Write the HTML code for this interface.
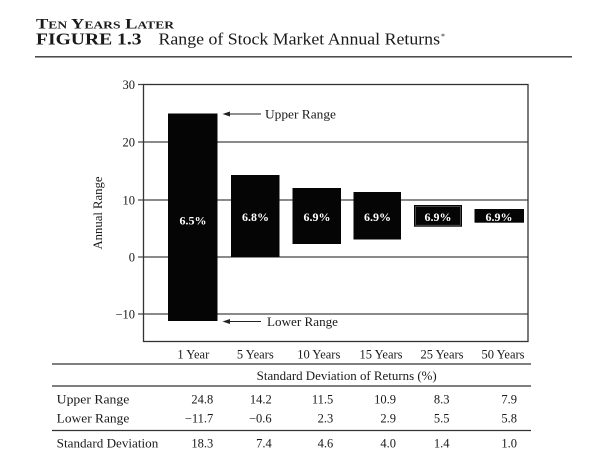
<!DOCTYPE html>
<html>
<head>
<meta charset="utf-8">
<style>
html,body{margin:0;padding:0;background:#fff;}
svg{display:block;}
text{font-family:"Liberation Serif",serif;fill:#1a1a1a;}
</style>
</head>
<body>
<svg width="600" height="464" viewBox="0 0 600 464" xmlns="http://www.w3.org/2000/svg">
<rect x="0" y="0" width="600" height="464" fill="#fff"/>
<!-- Title -->
<text x="36" y="28.3" font-size="15" font-weight="bold" style="font-variant:small-caps" textLength="138" lengthAdjust="spacingAndGlyphs">Ten Years Later</text>
<text x="36" y="44.3" font-size="16.5" font-weight="bold" textLength="105.5" lengthAdjust="spacingAndGlyphs">FIGURE 1.3</text>
<text x="158.5" y="44.3" font-size="16.5" textLength="281.5" lengthAdjust="spacingAndGlyphs">Range of Stock Market Annual Returns</text>
<text x="441" y="39" font-size="8">*</text>
<line x1="35" y1="56.8" x2="572" y2="56.8" stroke="#333" stroke-width="1.4"/>

<!-- gridlines -->
<g stroke="#444" stroke-width="1.2">
<line x1="143" y1="142" x2="528" y2="142"/>
<line x1="143" y1="200" x2="528" y2="200"/>
<line x1="143" y1="257" x2="528" y2="257"/>
<line x1="143" y1="314" x2="528" y2="314"/>
<!-- ticks -->
<line x1="138" y1="84.5" x2="143" y2="84.5"/>
<line x1="138" y1="142" x2="143" y2="142"/>
<line x1="138" y1="200" x2="143" y2="200"/>
<line x1="138" y1="257" x2="143" y2="257"/>
<line x1="138" y1="314" x2="143" y2="314"/>
</g>
<rect x="143.5" y="84.5" width="384.5" height="257" fill="none" stroke="#333" stroke-width="1.3"/>

<!-- y tick labels -->
<g font-size="12.5" text-anchor="end">
<text x="135" y="89">30</text>
<text x="135" y="146.5">20</text>
<text x="135" y="204.5">10</text>
<text x="135" y="261.5">0</text>
<text x="135" y="318.5">−10</text>
</g>
<text transform="translate(102,213) rotate(-90)" font-size="13" text-anchor="middle" textLength="73" lengthAdjust="spacingAndGlyphs">Annual Range</text>

<!-- bars -->
<g fill="#050505">
<rect x="168" y="113.5" width="49.5" height="207.5"/>
<rect x="231" y="175" width="48.5" height="82"/>
<rect x="292.5" y="188" width="48.5" height="56"/>
<rect x="353.5" y="192" width="47.5" height="47.5"/>
<rect x="414" y="205" width="48" height="21.7"/>
<rect x="474.5" y="209" width="49.5" height="13.7"/>
</g>
<rect x="415.5" y="206.5" width="45" height="18.7" fill="none" stroke="#777" stroke-width="0.6"/>

<!-- bar labels -->
<g font-size="12" font-weight="bold" text-anchor="middle">
<text x="193" y="224.5" style="fill:#fff">6.5%</text>
<text x="255.5" y="221" style="fill:#fff">6.8%</text>
<text x="317" y="221" style="fill:#fff">6.9%</text>
<text x="377.5" y="221" style="fill:#fff">6.9%</text>
<text x="438" y="221" style="fill:#fff">6.9%</text>
<text x="499" y="221" style="fill:#fff">6.9%</text>
</g>

<!-- annotations -->
<g stroke="#222" stroke-width="1.1">
<line x1="224" y1="114" x2="261" y2="114"/>
<line x1="224" y1="321.5" x2="261" y2="321.5"/>
</g>
<polygon points="222.5,114 230,111.5 230,116.5" fill="#222"/>
<polygon points="222.5,321.5 230,319 230,324" fill="#222"/>
<text x="265" y="118.5" font-size="13" textLength="71" lengthAdjust="spacingAndGlyphs">Upper Range</text>
<text x="267" y="326" font-size="13" textLength="71" lengthAdjust="spacingAndGlyphs">Lower Range</text>

<!-- category labels -->
<g font-size="12.5" text-anchor="middle">
<text x="193.3" y="358.5">1 Year</text>
<text x="255.3" y="358.5">5 Years</text>
<text x="318.8" y="358.5">10 Years</text>
<text x="381" y="358.5">15 Years</text>
<text x="442" y="358.5">25 Years</text>
<text x="503" y="358.5">50 Years</text>
</g>

<!-- table -->
<g stroke="#333" stroke-width="1.3">
<line x1="52" y1="364" x2="531" y2="364"/>
<line x1="52" y1="386" x2="531" y2="386"/>
<line x1="52" y1="430.5" x2="531" y2="430.5"/>
</g>
<text x="346.7" y="380" font-size="12.5" text-anchor="middle" textLength="180" lengthAdjust="spacingAndGlyphs">Standard Deviation of Returns (%)</text>

<g font-size="13">
<text x="56.7" y="403.3" textLength="72.6" lengthAdjust="spacingAndGlyphs">Upper Range</text>
<text x="56.7" y="422.3" textLength="72.6" lengthAdjust="spacingAndGlyphs">Lower Range</text>
<text x="56.7" y="447.3" textLength="101.6" lengthAdjust="spacingAndGlyphs">Standard Deviation</text>
</g>
<g font-size="12.5" text-anchor="end">
<text x="213.3" y="403.3">24.8</text>
<text x="271.7" y="403.3">14.2</text>
<text x="333.3" y="403.3">11.5</text>
<text x="396" y="403.3">10.9</text>
<text x="449.5" y="403.3">8.3</text>
<text x="517" y="403.3">7.9</text>

<text x="213.3" y="422.3">−11.7</text>
<text x="271.7" y="422.3">−0.6</text>
<text x="333.3" y="422.3">2.3</text>
<text x="396" y="422.3">2.9</text>
<text x="449.5" y="422.3">5.5</text>
<text x="517" y="422.3">5.8</text>

<text x="213.3" y="447.3">18.3</text>
<text x="271.7" y="447.3">7.4</text>
<text x="333.3" y="447.3">4.6</text>
<text x="396" y="447.3">4.0</text>
<text x="449.5" y="447.3">1.4</text>
<text x="517" y="447.3">1.0</text>
</g>
</svg>
</body>
</html>
